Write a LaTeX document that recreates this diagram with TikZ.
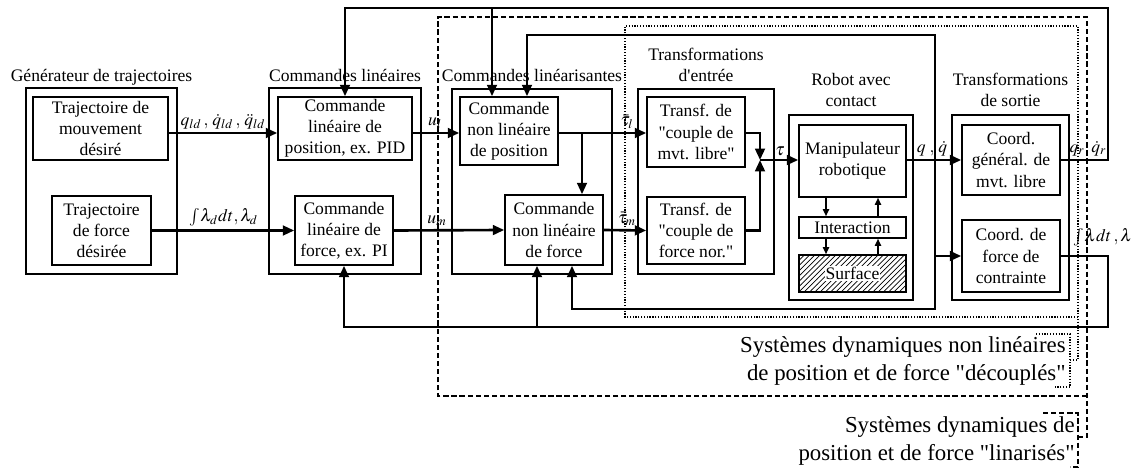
\documentclass[tikz,border=0pt]{standalone}
\usepackage{mathptmx}
\usepackage{fontspec}
\setmainfont{Liberation Serif}[Ligatures=TeXOff]
\usetikzlibrary{arrows.meta,patterns}

\begin{document}
\begin{tikzpicture}[x=0.02cm,y=-0.02cm,
    blk/.style={draw,line width=0.9pt,align=center,inner sep=0pt,font=\fontsize{10}{12}\selectfont},
    grp/.style={draw,line width=0.9pt,inner sep=0pt},
    ttl/.style={anchor=base,inner sep=0pt,font=\fontsize{10}{12}\selectfont},
    sig/.style={line width=1.5pt,-{Triangle[length=6.5pt,width=5.5pt]}},
    lnk/.style={line width=0.8pt,-{Triangle[length=4pt,width=3.5pt]}},
    lbl/.style={anchor=south,inner sep=1pt},
    dsh/.style={line width=0.8pt,dash pattern=on 3pt off 1.6pt},
    dtt/.style={line width=0.8pt,dash pattern=on 0.7pt off 0.9pt},
    sys/.style={align=right,inner sep=0pt,anchor=north east,font=\fontsize{13}{16}\selectfont}]
    \useasboundingbox (0,0) rectangle (1135,469);
    % groupes
    \node[grp,minimum width=3.02cm,minimum height=3.72cm] (gGen) at (101.5,181) {};
    \node[grp,minimum width=3.04cm,minimum height=3.72cm] (gLin) at (345,181) {};
    \node[grp,minimum width=3.20cm,minimum height=3.70cm] (gLzn) at (532,181.5) {};
    \node[grp,minimum width=2.72cm,minimum height=3.70cm] (gEnt) at (706,181.5) {};
    \node[grp,minimum width=2.48cm,minimum height=3.70cm] (gRob) at (851,207.5) {};
    \node[grp,minimum width=2.34cm,minimum height=3.70cm] (gSor) at (1010.5,207.5) {};
    \node[ttl] (tGen) at (101.5,82) {G\'en\'erateur de trajectoires};
    \node[ttl] (tLin) at (345,82) {Commandes lin\'eaires};
    \node[ttl] (tLzn) at (532,82) {Commandes lin\'earisantes};
    \node[ttl] (tEnt) at (706,61) {Transformations};
    \node[ttl] (tEntb) at (706,82) {d'entr\'ee};
    \node[ttl] (tRob) at (851,86) {Robot avec};
    \node[ttl] (tRobb) at (851,107) {contact};
    \node[ttl] (tSor) at (1010.5,86) {Transformations};
    \node[ttl] (tSorb) at (1010.5,107) {de sortie};
    % blocs
    \node[blk,minimum width=2.70cm,minimum height=1.26cm] (mvt) at (100.5,128.5) {Trajectoire de\\mouvement\\d\'esir\'e};
    \node[blk,minimum width=1.98cm,minimum height=1.38cm] (frc) at (101.5,230.5) {Trajectoire\\de force\\d\'esir\'ee};
    \node[blk,minimum width=2.68cm,minimum height=1.26cm] (pid) at (345,128.5) {Commande\\lin\'eaire de\\position, ex. PID};
    \node[blk,minimum width=1.96cm,minimum height=1.38cm] (pi) at (344,230.5) {Commande\\lin\'eaire de\\force, ex. PI};
    \node[blk,minimum width=1.96cm,minimum height=1.36cm] (nlp) at (509,131) {Commande\\non lin\'eaire\\de position};
    \node[blk,minimum width=1.96cm,minimum height=1.40cm] (nlf) at (554,230) {Commande\\non lin\'eaire\\de force};
    \node[blk,minimum width=1.96cm,minimum height=1.40cm] (tl) at (696,132) {Transf. de\\"couple de\\mvt. libre"};
    \node[blk,minimum width=1.96cm,minimum height=1.34cm] (tn) at (696,230.5) {Transf. de\\"couple de\\force nor."};
    \node[blk,minimum width=2.14cm,minimum height=1.44cm] (man) at (852.5,161) {Manipulateur\\robotique};
    \node[blk,minimum width=2.14cm,minimum height=0.42cm] (inter) at (852.5,227.5) {Interaction};
    \node[blk,pattern=north east lines,minimum width=2.14cm,minimum height=0.74cm] (surf) at (852.5,273.5) {};
    \node[fill=white,inner sep=0.5pt,font=\fontsize{10}{12}\selectfont] (surft) at (surf) {Surface};
    \node[blk,minimum width=1.96cm,minimum height=1.40cm] (cg) at (1011,160) {Coord.\\g\'en\'eral. de\\mvt. libre};
    \node[blk,minimum width=1.96cm,minimum height=1.44cm] (cf) at (1011,256) {Coord. de\\force de\\contrainte};
    % points de passage
    \coordinate (r1) at (0,133);
    \coordinate (dj) at (582,133);
    \coordinate (tj) at (760,160);
    \coordinate (qj) at (935,160);
    \coordinate (tr) at (1108,8);
    \coordinate (tb) at (492,8);
    \coordinate (swl) at (527,35);
    \coordinate (swb) at (572,309);
    \coordinate (br) at (1108,327);
    \coordinate (bb) at (537,327);
    \coordinate (ia) at (826,0);
    \coordinate (ib) at (878,0);
    % signaux
    \draw[sig] (mvt.east |- r1) -- (pid.west |- r1);
    \draw[sig] (frc.east) -- (pi.west);
    \draw[sig] (pid.east |- r1) -- (nlp.west |- r1);
    \draw[sig] (pi.east) -- (nlf.west);
    \draw[sig] (nlp.east |- r1) -- (tl.west |- r1);
    \draw[sig] (dj) -- (dj |- nlf.north);
    \draw[sig] (nlf.east) -- (tn.west);
    \draw[sig] (tl.east |- r1) -| (tj);
    \draw[sig] (tn.east) -| (tj);
    \draw[sig] (tj) -- (man.west |- tj);
    \draw[sig] (man.east |- tj) -- (cg.west |- tj);
    \draw[sig] (qj |- cf.west) -- (cf.west);
    \draw[sig] (cg.east) -| (tr) -| (pid.north);
    \draw[sig] (tb) -- (tb |- nlp.north);
    \draw[sig] (qj) |- (swl) -- (swl |- nlp.north);
    \draw[sig] (qj) |- (swb) -- (swb |- nlf.south);
    \draw[sig] (cf.east) -| (br) -| (pi.south);
    \draw[sig] (bb) -- (bb |- nlf.south);
    \draw[lnk] (man.south -| ia) -- (inter.north -| ia);
    \draw[lnk] (inter.north -| ib) -- (man.south -| ib);
    \draw[lnk] (inter.south -| ia) -- (surf.north -| ia);
    \draw[lnk] (surf.north -| ib) -- (inter.south -| ib);
    % etiquettes
    \node[lbl] (lq) at (223,131) {$q_{ld}\,,\,\dot q_{ld}\,,\,\ddot q_{ld}$};
    \node[lbl] (ll) at (224,228) {$\int\!\lambda_d dt,\lambda_d$};
    \node[lbl] (lul) at (435,131) {$u_l$};
    \node[lbl] (lum) at (437,228) {$u_m$};
    \node[lbl] (ltl) at (627,131) {$\bar\tau_l$};
    \node[lbl] (ltm) at (627,228) {$\bar\tau_m$};
    \node[lbl] (lt) at (780,158) {$\tau$};
    \node[lbl] (lqq) at (932,158) {$q\;,\,\dot q$};
    \node[lbl] (lqr) at (1088,158) {$q_r,\dot q_r$};
    \node[lbl] (llam) at (1103,248) {$\int\!\lambda dt\,,\lambda$};
    % systemes
    \draw[dsh] (1087,396) -- (438,396) -- (438,17) -- (1087,17) -- (1087,437) -- (1078,437);
    \draw[dsh] (1043,413) -- (1078,413) -- (1078,467) -- (1070,467);
    \draw[dtt] (1078,317) -- (625,317) -- (625,26) -- (1078,26) -- (1078,360) -- (1070,360);
    \draw[dtt] (1036,334) -- (1070,334) -- (1070,387) -- (1055,387);
    \node[sys] (sys1) at (1066,336) {Syst\`emes dynamiques non lin\'eaires\\de position et de force "d\'ecoupl\'es"};
    \node[sys] (sys2) at (1075,416) {Syst\`emes dynamiques de\\position et de force "linaris\'es"};
\end{tikzpicture}
\end{document}
